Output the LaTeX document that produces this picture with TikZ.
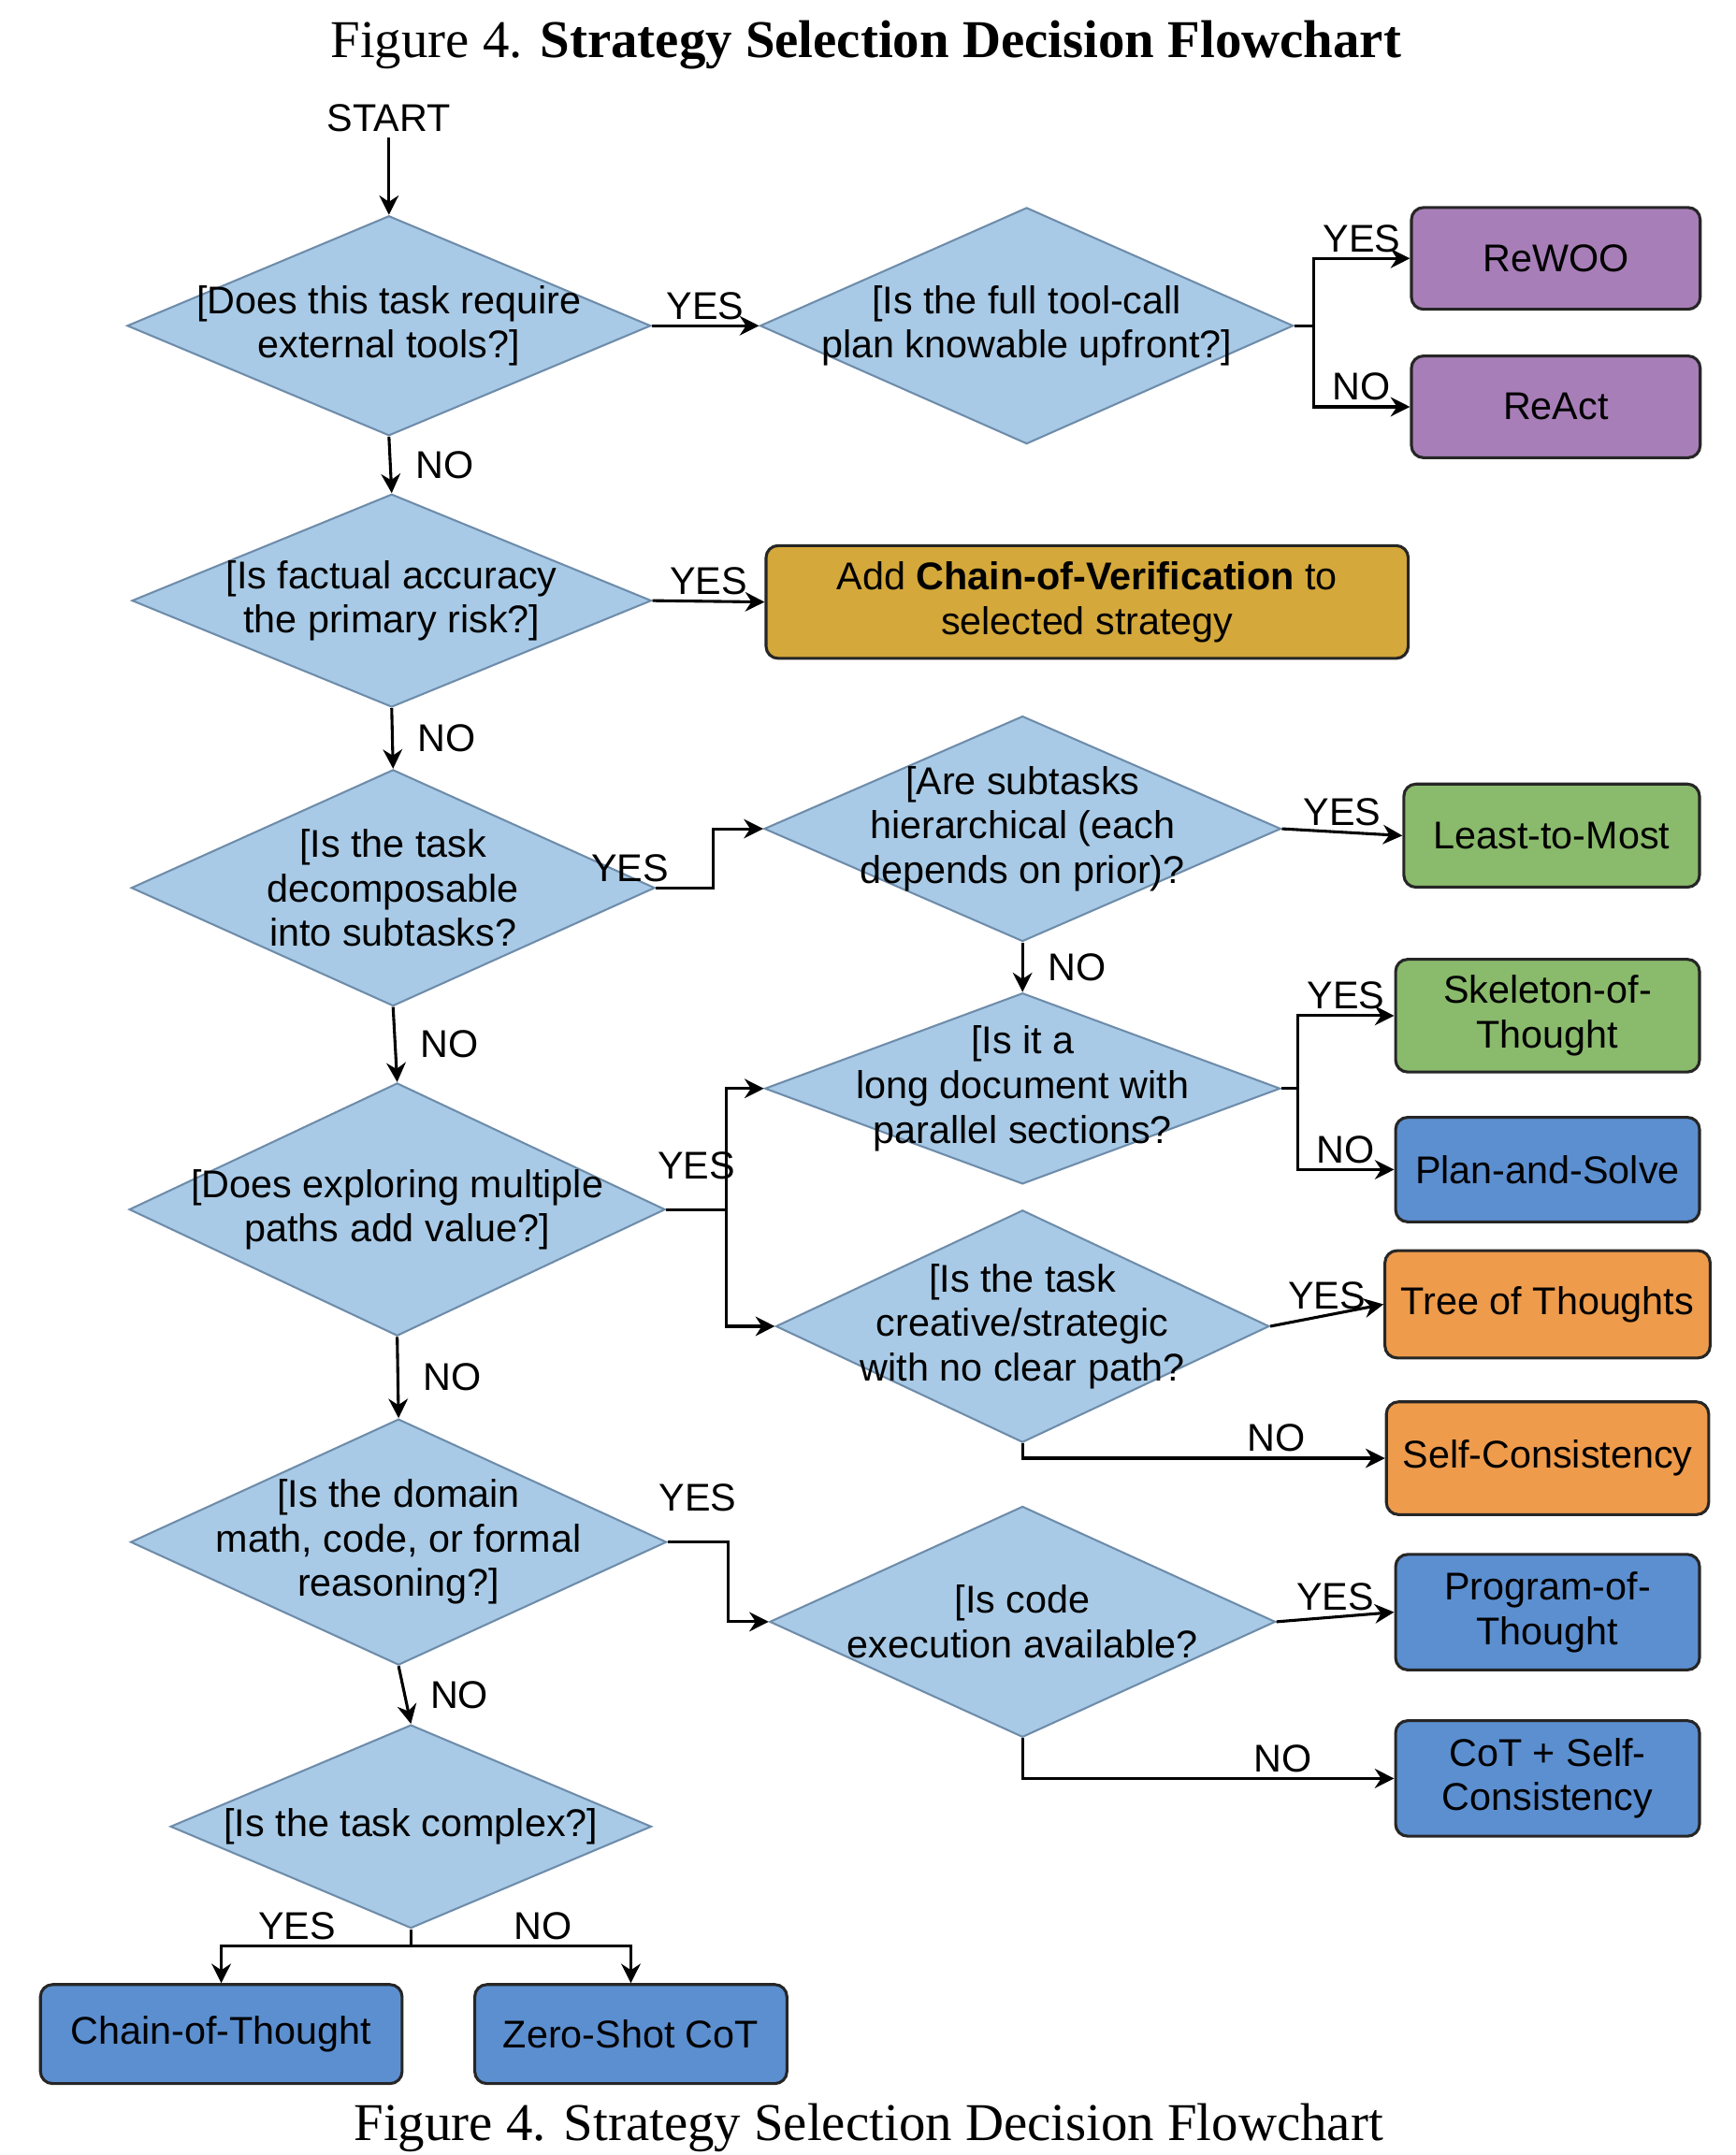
\documentclass[tikz,border=0pt]{standalone}
\usepackage{fontspec}
\setmainfont{Liberation Serif}
\setsansfont{Liberation Sans}
\usetikzlibrary{arrows.meta,shapes.geometric,positioning}
\definecolor{diafill}{RGB}{168,202,230}
\definecolor{diaedge}{RGB}{110,140,170}
\definecolor{purplebox}{RGB}{168,126,184}
\definecolor{goldbox}{RGB}{212,168,58}
\definecolor{greenbox}{RGB}{138,186,108}
\definecolor{bluebox}{RGB}{92,143,208}
\definecolor{orangebox}{RGB}{238,155,75}
\tikzstyle{decision}=[diamond,draw=diaedge,fill=diafill,inner sep=0pt,line width=0.4pt]
\tikzstyle{dtext}=[align=center,font=\sffamily\fontsize{8}{9.2}\selectfont]
\tikzstyle{strategy}=[rectangle,rounded corners=2.5pt,draw=black!85,line width=0.6pt,minimum width=2.21cm,minimum height=0.76cm,align=center,font=\sffamily\fontsize{8}{9.2}\selectfont]
\tikzstyle{flow}=[-{Stealth[length=4pt,width=4pt]},line width=0.6pt,black]
\tikzstyle{lbl}=[font=\sffamily\fontsize{8}{9.2}\selectfont,inner sep=1pt]
\begin{document}
\begin{tikzpicture}[x=0.01cm,y=-0.01cm]
\useasboundingbox (0,0) rectangle (1263,1568);
    % titles
    \node[font=\fontsize{11}{12}\selectfont] (title) at (630,33) {Figure 4. \textbf{Strategy Selection Decision Flowchart}};
    \node[font=\fontsize{11}{12}\selectfont] (caption) at (632,1548) {Figure 4. Strategy Selection Decision Flowchart};
    \node[lbl] (start) at (283,86) {START};

    % decisions
    \foreach \name/\x/\y/\w/\h/\txt in {
        d1/283/237/381/160/{[Does this task require\\external tools?]},
        d2/747/237/388/172/{[Is the full tool-call\\plan knowable upfront?]},
        d3/285/437/378/155/{[Is factual accuracy\\the primary risk?]},
        d4/286/646/381/172/{[Is the task\\decomposable\\into subtasks?},
        d5/744/603/376/164/{[Are subtasks\\hierarchical (each\\depends on prior)?},
        d6/744/792/375/139/{[Is it a\\long document with\\parallel sections?},
        d7/289/880/390/184/{[Does exploring multiple\\paths add value?]},
        d8/744/965/359/169/{[Is the task\\creative/strategic\\with no clear path?},
        d9/290/1122/390/179/{[Is the domain\\math, code, or formal\\reasoning?]},
        d10/744/1180/368/168/{[Is code\\execution available?},
        d11/299/1329/350/148/{[Is the task complex?]}}
    {
        \node[decision,minimum width=\w*0.01cm,minimum height=\h*0.01cm] (\name) at (\x,\y) {};
        \node[dtext] (\name-t) at (\name) {\txt};
    }

    % strategies
    \node[strategy,fill=purplebox,minimum width=2.1cm,minimum height=0.74cm] (rewoo) at (1132,188) {ReWOO};
    \node[strategy,fill=purplebox,minimum width=2.1cm,minimum height=0.74cm] (react) at (1132,296) {ReAct};
    \node[strategy,fill=goldbox,minimum width=4.67cm,minimum height=0.82cm] (cove) at (791,438) {Add \textbf{Chain-of-Verification} to\\selected strategy};
    \node[strategy,fill=greenbox,minimum width=2.15cm,minimum height=0.75cm] (ltm) at (1129,608) {Least-to-Most};
    \node[strategy,fill=greenbox] (sot) at (1126,739) {Skeleton-of-\\Thought};
    \node[strategy,fill=bluebox] (pas) at (1126,851) {Plan-and-Solve};
    \node[strategy,fill=orangebox,minimum height=0.78cm] (tot) at (1126,949) {Tree of Thoughts};
    \node[strategy,fill=orangebox,minimum height=0.82cm] (sc) at (1126,1061) {Self-Consistency};
    \node[strategy,fill=bluebox,minimum height=0.84cm] (pot) at (1126,1173) {Program-of-\\Thought};
    \node[strategy,fill=bluebox,minimum height=0.84cm] (cotsc) at (1126,1294) {CoT + Self-\\Consistency};
    \node[strategy,fill=bluebox,minimum width=2.63cm,minimum height=0.72cm] (cot) at (161,1480) {Chain-of-Thought};
    \node[strategy,fill=bluebox,minimum width=2.27cm,minimum height=0.72cm] (zs) at (459,1480) {Zero-Shot CoT};

    % connectors
    \draw[flow] (start) -- (d1.north);
    \draw[flow] (d1.east) -- node[lbl,above]{YES} (d2.west);
    \draw[flow] (d2.east) -- ++(14,0) |- node[lbl,pos=0.75,above]{YES} (rewoo.west);
    \draw[flow] (d2.east) -- ++(14,0) |- node[lbl,pos=0.75,above]{NO} (react.west);
    \draw[flow] (d1.south) -- node[lbl,right=4pt]{NO} (d3.north);
    \draw[flow] (d3.east) -- node[lbl,above]{YES} (cove.west);
    \draw[flow] (d3.south) -- node[lbl,right=4pt]{NO} (d4.north);
    \draw[flow] (d4.east) -- node[lbl,above left=0pt and 2pt]{YES} ++(42,0) |- (d5.west);
    \draw[flow] (d5.east) -- node[lbl,above]{YES} (ltm.west);
    \draw[flow] (d5.south) -- node[lbl,right=4pt]{NO} (d6.north);
    \draw[flow] (d4.south) -- node[lbl,right=4pt]{NO} (d7.north);
    \draw[flow] (d7.east) -- node[lbl,above=5pt]{YES} ++(44,0) |- (d6.west);
    \draw[flow] (d7.east) -- ++(44,0) |- (d8.west);
    \draw[flow] (d6.east) -- ++(12,0) |- node[lbl,pos=0.75,above]{YES} (sot.west);
    \draw[flow] (d6.east) -- ++(12,0) |- node[lbl,pos=0.75,above]{NO} (pas.west);
    \draw[flow] (d8.east) -- node[lbl,above]{YES} (tot.west);
    \draw[flow] (d8.south) |- node[lbl,pos=0.85,above]{NO} (sc.west);
    \draw[flow] (d7.south) -- node[lbl,right=4pt]{NO} (d9.north);
    \draw[flow] (d9.east) -- node[lbl,above=5pt]{YES} ++(44,0) |- (d10.west);
    \draw[flow] (d10.east) -- node[lbl,above]{YES} (pot.west);
    \draw[flow] (d10.south) |- node[lbl,pos=0.85,above]{NO} (cotsc.west);
    \draw[flow] (d9.south) -- node[lbl,right=4pt]{NO} (d11.north);
    \draw[flow] (d11.south) -- ++(0,12) -| node[lbl,pos=0.3,above]{YES} (cot.north);
    \draw[flow] (d11.south) -- ++(0,12) -| node[lbl,pos=0.3,above]{NO} (zs.north);
\end{tikzpicture}
\end{document}
